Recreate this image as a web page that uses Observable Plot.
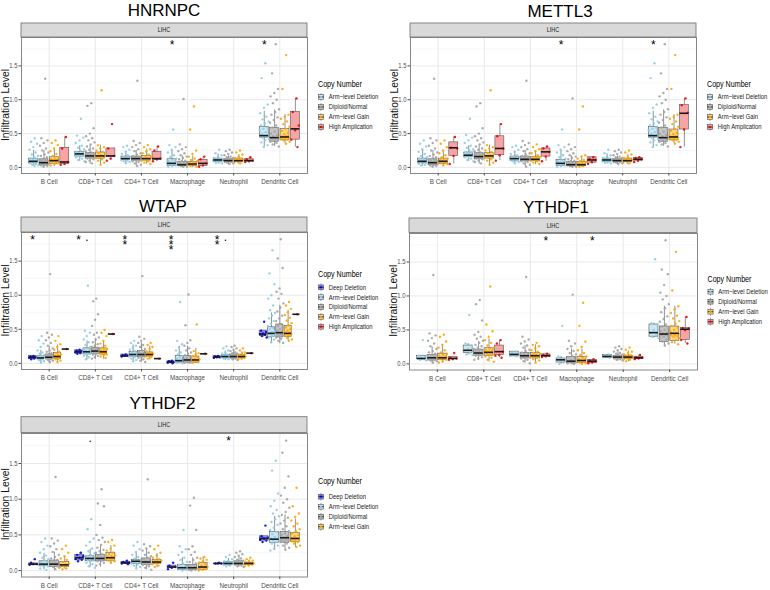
<!DOCTYPE html>
<html><head><meta charset="utf-8">
<script src="https://cdn.jsdelivr.net/npm/d3@7"></script>
<script src="https://cdn.jsdelivr.net/npm/@observablehq/plot@0.6"></script>
<style>
body{margin:0;background:#fff;}
#root{position:relative;width:770px;height:590px;overflow:hidden;background:#fff;}
</style></head><body><div id="root"></div>
<script>
// ---------- shared categories / labels ----------
const cells = ["B Cell","CD8+ T Cell","CD4+ T Cell","Macrophage","Neutrophil","Dendritic Cell"];
const groupNames = ["Deep Deletion","Arm\u2212level Deletion","Diploid/Normal","Arm\u2212level Gain","High Amplication"];
const pointColors = ["#0000f0","#8ecde6","#a3a3a3","#ffa500","#f00000"];
const boxColors = ["#8585f5","#c8e6f1","#bfbfbf","#ffd27a","#f79a9a"];
const yTicks = [0, 0.5, 1, 1.5];
const yMinor = [0.25, 0.75, 1.25, 1.75];
const stripLabel = "LIHC";
const legendTitle = "Copy Number";
const yLabel = "Infiltration Level";

// values in hundredths: box = "whiskerLow q1 median q3 whiskerHigh"
// ---------- HNRNPC ----------
const HNRNPC_groups = [1,2,3,4];
const HNRNPC_box = [
 ["2 6 9 13 25","0 3 7 12 25","1 5 10 15 28","4 5 8 29 45"],
 ["9 16 20 23 32","5 13 17 21 33","4 13 17 22 33","10 15 17 28 28"],
 ["5 11 13 16 24","2 10 13 16 25","5 10 13 17 27","9 11 13 23 31"],
 ["0 2 6 12 25","0 2 4 8 17","0 2 5 8 17","1 2 6 11 16"],
 ["5 8 11 13 20","4 9 10 12 17","4 8 10 13 19","8 9 10 12 15"],
 ["30 44 47 60 83","31 38 44 58 85","35 40 45 57 78","30 41 57 82 102"]
];
const HNRNPC_pts = [
 ["43 38 35 30 26 22 19 17 15 13 12 11 10 9 9 8 7 6 5 4 3 2","131 43 40 36 32 28 25 22 19 17 15 13 12 11 10 9 8 8 7 6 5 4 3 2 1","40 36 33 28 24 20 17 15 13 12 11 10 9 8 7 6 5 3","45 28 8 5 4"],
 ["72 47 44 40 36 32 29 27 25 23 22 21 20 19 18 17 16 15 13 11 9","95 91 58 50 46 43 40 37 34 31 28 26 24 22 21 20 19 18 17 16 15 14 13 12 10 8 6","114 33 30 28 25 23 21 20 18 17 16 15 14 12 10 7 4","64 28 17 13 10"],
 ["32 30 26 23 20 18 16 15 14 13 12 12 11 10 9 8 6","128 39 36 33 30 27 24 21 19 17 16 15 14 13 12 11 10 9 8 6 4 2","33 30 27 24 21 19 17 15 14 13 12 11 10 9 7 5","31 25 13 12 9"],
 ["56 33 30 26 22 18 15 13 11 9 8 7 6 5 4 3 2 1","101 34 30 27 24 21 18 16 14 12 10 9 8 7 6 5 4 3 3 2 1 1","90 56 25 20 16 13 11 9 8 7 6 5 4 3 2 1","16 12 6 3 1"],
 ["26 21 18 16 14 13 12 12 11 11 10 9 9 8 7 6","26 24 22 20 18 16 15 14 13 12 12 11 11 10 10 9 9 8 8 7 6 5","25 22 19 16 14 13 12 11 10 10 9 8 7 6","15 12 10 9 8"],
 ["154 132 93 88 80 75 71 68 65 62 59 57 55 52 50 48 47 46 45 44 42 40 37 33 30","182 139 116 110 105 100 95 86 82 78 74 70 66 62 59 56 53 50 48 46 44 43 42 41 40 38 36 34 31","166 116 78 75 72 68 64 60 57 54 51 49 47 46 45 44 43 42 41 40 38 35","102 82 62 55 41 30"]
];
const HNRNPC_sig = [[3,0,"*"],[5,0,"*"]];

// ---------- METTL3 ----------
const METTL3_groups = [1,2,3,4];
const METTL3_box = [
 ["2 6 9 13 25","0 3 7 12 25","2 5 9 13 24","5 17 29 37 45"],
 ["9 15 18 22 32","5 12 16 21 33","4 13 17 21 33","10 18 28 46 64"],
 ["5 10 13 16 24","1 9 12 16 25","4 9 12 15 25","9 16 23 28 31"],
 ["0 2 6 11 25","0 2 4 8 17","0 2 4 8 17","5 7 11 15 15"],
 ["5 8 11 13 20","4 9 10 12 17","4 8 10 13 19","8 10 12 14 15"],
 ["30 44 47 60 83","31 38 44 58 85","35 40 45 56 78","30 56 80 92 102"]
];
const METTL3_pts = [
 ["40 35 31 27 23 20 17 15 13 12 11 10 9 9 8 7 6 5 4 3","131 43 40 36 32 28 25 22 19 17 15 13 12 11 10 9 8 8 7 6 5 4 3 2 1","40 35 30 25 21 18 15 13 12 11 10 9 8 7 6 5 3","45 29 28 17 5"],
 ["72 48 44 40 36 32 29 27 25 23 22 21 20 19 18 17 16 15 13 11 9","95 90 58 50 46 43 40 37 34 31 28 26 24 22 21 20 19 18 17 16 15 14 13 12 10 8 6","114 33 30 28 25 23 21 20 18 17 16 15 14 12 10 7 4","64 46 28 18 10"],
 ["32 30 26 23 20 18 16 15 14 13 12 12 11 10 9 8 6","128 39 36 33 30 27 24 21 19 17 16 15 14 13 12 11 10 9 8 6 4 1","34 30 27 24 21 18 16 15 14 13 12 11 10 9 7 5","31 28 23 16 9"],
 ["56 33 30 26 22 18 15 13 11 9 8 7 6 5 4 3 2 1","102 34 30 27 24 21 18 16 14 12 10 9 8 7 6 5 4 3 3 2 1 1","90 56 18 16 13 11 9 8 7 6 5 4 3 2 1","15 13 11 8 5"],
 ["26 21 18 16 14 13 12 12 11 11 10 9 9 8 7 6","26 24 22 20 18 16 15 14 13 12 12 11 11 10 10 9 9 8 8 7 6 5","25 22 19 16 14 13 12 11 10 10 9 8 7 6","15 14 12 10 8"],
 ["154 132 93 88 80 75 71 68 65 62 59 57 55 52 50 48 47 46 45 44 42 40 37 33 30","182 139 116 110 105 100 95 86 82 78 74 70 66 62 59 56 53 50 48 46 44 43 42 41 40 38 36 34 31","166 116 78 75 72 68 64 60 57 54 51 49 47 46 45 44 43 42 41 40 38 35","102 92 81 56 30"]
];
const METTL3_sig = [[3,0,"*"],[5,0,"*"]];

// ---------- WTAP ----------
const WTAP_groups = [0,1,2,3,4];
const WTAP_box = [
 ["6 7 9 11 11","1 6 8 11 19","0 6 9 13 25","1 6 10 15 27","21 21 21 21 21"],
 ["13 15 17 19 20","5 13 17 22 33","6 14 18 23 36","6 13 17 22 33","43 43 43 43 43"],
 ["10 10 11 13 13","3 9 13 17 27","2 9 13 18 30","5 10 13 16 25","7 7 7 7 7"],
 ["0 1 2 3 4","0 1 4 11 25","0 1 5 11 25","0 1 5 10 22","14 14 14 14 14"],
 ["8 8 9 11 11","4 8 10 12 18","4 8 10 13 20","5 8 10 12 17","15 15 15 15 15"],
 ["38 40 43 48 48","29 39 44 53 74","29 38 45 57 85","33 39 44 55 78","72 72 72 72 72"]
];
const WTAP_pts = [
 ["11 10 9 9 8 7 6","40 34 29 24 19 16 14 12 11 10 9 8 7 6 5 3 1","131 45 42 38 34 30 26 22 19 17 15 13 12 11 10 9 8 7 6 5 4 2","40 33 28 24 20 17 15 13 12 11 10 9 8 7 6 4 2","21"],
 ["20 19 18 17 16 15 14","114 48 45 40 35 31 27 24 22 20 19 18 17 16 15 14 13 11 9 6","95 91 72 64 55 45 42 38 35 31 28 26 24 22 21 20 19 18 17 16 15 14 13 11 9 7","49 45 40 33 29 26 23 21 20 19 18 17 16 15 14 13 12 10 8","43"],
 ["13 12 11 11 10","33 30 26 23 20 18 16 15 14 13 12 11 10 9 7 5 3","128 39 36 33 30 27 24 21 19 17 15 14 13 12 11 10 9 8 6 4 2","30 27 24 21 18 16 15 14 13 12 12 11 10 9 7","7"],
 ["4 3 2 2 1 0","90 33 28 23 19 16 13 11 9 7 5 4 3 2 1 0","101 56 34 30 26 22 19 16 14 12 10 8 6 5 4 3 2 1 1","57 18 15 13 11 9 7 6 5 4 3 2 1","14"],
 ["11 10 9 9 8","25 22 19 16 14 13 12 11 11 10 10 9 9 8 7 6","26 24 22 20 18 16 15 14 13 12 11 11 10 10 9 9 8 8 7 6 5","22 19 16 14 13 12 11 10 10 9 8 7 6","15"],
 ["61 48 46 44 43 42 40 38","166 132 116 100 95 85 78 74 70 66 62 58 55 52 50 48 46 45 44 43 42 40 38 35 31","182 154 140 110 105 102 95 88 82 76 70 66 62 58 55 52 50 48 46 45 44 43 42 41 40 38 36 33 30","90 85 80 75 71 67 63 59 56 53 50 48 46 45 44 43 42 41 40 38 35 33","72"]
];
const WTAP_sig = [[0,0,"*"],[1,0,"*"],[1,1,"."],[2,0,"**"],[3,0,"***"],[4,0,"**"],[4,1,"."]];

// ---------- YTHDF1 ----------
const YTHDF1_groups = [1,2,3,4];
const YTHDF1_box = [
 ["5 7 8 12 12","0 5 9 13 25","1 6 9 15 28","6 7 8 10 10"],
 ["13 16 20 27 30","5 12 16 21 33","3 12 17 23 37","9 13 18 27 35"],
 ["11 11 14 18 18","1 8 12 16 27","2 8 12 16 28","10 11 12 14 15"],
 ["0 2 6 8 11","0 1 4 10 22","0 1 5 10 22","1 1 4 6 7"],
 ["9 9 11 13 14","4 8 10 12 18","3 7 10 12 19","7 7 9 10 13"],
 ["38 40 46 58 60","27 32 44 55 85","29 34 45 55 85","30 35 51 53 69"]
];
const YTHDF1_pts = [
 ["35 12 10 9 8 7 6 5","131 45 42 38 34 30 26 22 19 17 15 13 12 11 10 9 8 7 6 5 4 2","43 40 33 28 24 20 17 15 13 12 11 10 9 8 7 6 4 2","16 9 8 7 6"],
 ["72 30 27 22 20 16 14 13","94 88 64 47 43 40 37 34 31 28 26 24 22 21 20 19 18 17 16 15 14 13 12 10 8 6","114 58 48 40 35 31 27 24 22 20 19 18 17 16 15 14 13 11 9 6 3","35 30 18 13 12 9"],
 ["18 17 15 14 12 11","128 40 36 33 30 27 24 21 19 17 15 14 13 12 11 10 9 8 6 4 1","31 28 26 23 20 18 16 15 14 13 12 11 10 9 7 5 2","15 13 12 11 10"],
 ["56 11 8 6 4 2 0","102 34 30 26 22 19 16 14 12 10 8 6 5 4 3 2 1 1 0","90 56 33 25 20 16 13 11 9 7 6 5 4 3 2 1 0","7 5 4 2 1"],
 ["14 13 12 11 10 9","26 24 22 20 18 16 15 14 13 12 11 11 10 10 9 9 8 8 7 6 5","24 21 18 16 14 13 12 11 10 10 9 8 7 6 4","13 10 9 8 7"],
 ["154 60 58 50 45 42 40 38","182 139 132 116 105 100 95 88 82 76 70 66 62 58 55 52 50 48 46 45 44 43 42 41 40 38 36 33 30 27","165 108 85 80 75 71 67 63 59 56 53 50 48 46 45 44 43 42 41 40 38 35 32 29","69 53 52 50 35 30"]
];
const YTHDF1_sig = [[2,3,"*"],[3,3,"*"]];

// ---------- YTHDF2 ----------
const YTHDF2_groups = [0,1,2,3];
const YTHDF2_box = [
 ["8 8 9 10 11","1 6 9 13 24","0 5 9 14 26","2 5 8 12 19"],
 ["13 15 18 22 25","4 13 17 20 30","5 13 17 22 35","9 13 18 25 35"],
 ["9 9 11 12 14","3 9 13 15 24","1 8 12 17 30","4 9 12 15 24"],
 ["2 4 5 7 7","0 1 4 8 18","0 1 4 8 18","0 1 5 11 19"],
 ["10 10 10 10 11","6 8 10 12 17","5 8 10 13 20","6 8 10 11 15"],
 ["40 42 45 48 48","28 39 44 54 76","29 39 46 54 78","33 40 45 53 72"]
];
const YTHDF2_pts = [
 ["16 11 9 9 8","45 40 35 30 25 21 18 16 14 12 11 10 9 8 7 6 5 3 1","131 45 42 38 34 30 26 22 19 17 15 13 12 11 10 9 8 7 6 5 4 2","35 30 25 20 17 15 12 10 9 8 7 6 5 3 2"],
 ["25 22 20 18 16 15 13","72 58 45 40 35 31 27 24 22 20 19 18 17 16 15 14 13 11 9 6 4","114 94 90 64 50 46 43 40 36 32 29 27 25 23 21 20 19 18 17 16 15 14 13 11 9 7","43 40 35 31 28 25 23 21 20 19 18 17 16 15 14 13 11"],
 ["14 12 11 11 10 9","40 35 30 26 22 19 17 15 14 13 12 11 10 9 7 5 3","128 37 34 31 28 25 22 20 18 16 15 14 13 12 11 10 9 8 6 4 1","35 30 25 21 18 16 15 14 13 12 11 10 9 7 5"],
 ["11 7 5 4 2","57 34 30 26 22 18 15 12 10 8 6 5 4 3 2 1 0","102 91 57 34 30 26 22 18 15 12 10 8 6 5 4 3 2 1 1 0","19 17 15 13 11 9 7 5 4 3 2 1 0"],
 ["11 10 10 10","22 19 16 14 13 12 11 11 10 10 9 9 8 7 6","27 25 23 21 19 17 15 14 13 12 11 11 10 10 9 9 8 8 7 6 5","18 16 14 13 12 11 10 10 9 9 8 7 6"],
 ["63 48 46 45 43 42 40","154 140 108 98 90 85 80 76 72 68 64 60 57 54 51 49 47 45 44 43 42 40 38 35 31 28","182 165 132 116 105 100 95 88 82 78 74 70 66 62 58 55 52 50 48 46 45 44 43 42 41 40 38 35 32 29","116 90 80 75 70 66 62 58 55 52 50 48 46 45 44 43 42 41 40 38 35 33"]
];
const YTHDF2_sig = [[1,1,"."],[4,1,"*"]];

// ---------- layout ----------
const REG = "'Liberation Sans',Arial,sans-serif";
const SX = 0.84;  // horizontal condensing of small texts, as in the reference
const layout = [
 {gene:"HNRNPC", groups:HNRNPC_groups, box:HNRNPC_box, pts:HNRNPC_pts, sig:HNRNPC_sig,
  left:0, top:36, w:286, h:136, titleX:164, titleY:15.7, strip:[21,23,307,37], legX:318, legTitleY:86.5, legY0:97, legStep:10},
 {gene:"METTL3", groups:METTL3_groups, box:METTL3_box, pts:METTL3_pts, sig:METTL3_sig,
  left:389, top:36, w:286, h:136, titleX:560, titleY:16.5, strip:[410,23,696,37], legX:707, legTitleY:86.5, legY0:97, legStep:10},
 {gene:"WTAP", groups:WTAP_groups, box:WTAP_box, pts:WTAP_pts, sig:WTAP_sig,
  left:0, top:231, w:286, h:137, titleX:163, titleY:211.5, strip:[21,217,307,232], legX:318, legTitleY:276.5, legY0:287.3, legStep:9.85},
 {gene:"YTHDF1", groups:YTHDF1_groups, box:YTHDF1_box, pts:YTHDF1_pts, sig:YTHDF1_sig,
  left:388, top:231.5, w:288, h:136.5, titleX:556, titleY:212.5, strip:[409,218,697,232.5], legX:707.5, legTitleY:281.5, legY0:291.7, legStep:10},
 {gene:"YTHDF2", groups:YTHDF2_groups, box:YTHDF2_box, pts:YTHDF2_pts, sig:YTHDF2_sig,
  left:0, top:431.5, w:286, h:143.5, titleX:162.5, titleY:409.3, strip:[21,416.7,307,432.5], legX:318, legTitleY:484, legY0:496.7, legStep:10}
];

const parse = s => s.split(" ").map(v => +v / 100);
const jitter = k => (((k + 1) * 0.6180339887) % 1) - 0.5;   // horizontal spread only
const root = document.getElementById("root");
const ML = 21, MR = 1, MT = 1, MB = 20;
const STAR_STEP = 5.4;

function condense(el) {
  const t = el.getAttribute("transform");
  if (t) { el.setAttribute("transform", t + ` scale(${SX},1)`); return; }
  const x = +(el.getAttribute("x") || 0), y = +(el.getAttribute("y") || 0);
  el.removeAttribute("x"); el.removeAttribute("y");
  el.setAttribute("transform", `translate(${x},${y}) scale(${SX},1)`);
}

layout.forEach(L => {
  const n = L.groups.length, step = 0.9 / n, bw = step * 0.86;
  const boxRows = [], ptRows = [];
  cells.forEach((c, ci) => L.groups.forEach((g, gi) => {
    const xc = ci + 1 + (gi - (n - 1) / 2) * step;
    const [lo, q1, med, q3, hi] = parse(L.box[ci][gi]);
    boxRows.push({g, xc, x1: xc - bw / 2, x2: xc + bw / 2, lo, q1, med, q3, hi});
    parse(L.pts[ci][gi]).forEach((v, k) => ptRows.push({g, x: xc + jitter(k) * bw * 1.1, y: v}));
  }));
  // significance marks: each character of a label stacked downward from the panel top
  const sigChars = [];
  L.sig.forEach(([ci, gi, t]) => t.split("").forEach((ch, level) =>
    sigChars.push({x: ci + 1 + (gi - (n - 1) / 2) * step, ch, level})));
  const starMarks = [0, 1, 2].map(level => Plot.text(sigChars.filter(d => d.ch === "*" && d.level === level),
    {x: "x", frameAnchor: "top", dy: 2.5 + level * STAR_STEP, text: "ch", lineAnchor: "top", fontSize: 12, fontFamily: REG, fill: "black"}));
  const dotMark = Plot.text(sigChars.filter(d => d.ch === "."),
    {x: "x", frameAnchor: "top", dy: 0, text: "ch", lineAnchor: "top", fontSize: 12, fontFamily: REG, fill: "black"});
  const svg = Plot.plot({
    width: ML + L.w + MR, height: MT + L.h + MB,
    marginLeft: ML, marginRight: MR, marginTop: MT, marginBottom: MB,
    style: {fontFamily: REG, background: "transparent", overflow: "visible"},
    x: {domain: [0.4, 6.6]},
    y: {domain: [-0.09, 1.92]},
    color: {type: "identity"},
    marks: [
      Plot.frame({fill: "white"}),
      Plot.gridY(yMinor, {stroke: "#f2f2f2", strokeOpacity: 1, strokeWidth: 0.6}),
      Plot.gridY(yTicks, {stroke: "#e6e6e6", strokeOpacity: 1, strokeWidth: 0.9}),
      Plot.gridX(d3.range(1, 7), {stroke: "#e6e6e6", strokeOpacity: 1, strokeWidth: 0.9}),
      Plot.ruleX(boxRows, {x: "xc", y1: "lo", y2: "q1", stroke: "#4a4a4a", strokeWidth: 0.6}),
      Plot.ruleX(boxRows, {x: "xc", y1: "q3", y2: "hi", stroke: "#4a4a4a", strokeWidth: 0.6}),
      Plot.rect(boxRows, {x1: "x1", x2: "x2", y1: "q1", y2: "q3", fill: d => boxColors[d.g], fillOpacity: 0.9, stroke: "#555", strokeWidth: 0.6}),
      Plot.dot(ptRows, {x: "x", y: "y", r: 1.2, fill: d => pointColors[d.g], fillOpacity: 0.9, stroke: null}),
      Plot.ruleY(boxRows, {x1: "x1", x2: "x2", y: "med", stroke: "#1a1a1a", strokeWidth: 1.6}),
      ...starMarks, dotMark,
      Plot.frame({stroke: "#7a7a7a", strokeWidth: 0.9}),
      Plot.axisX(d3.range(1, 7), {tickFormat: i => cells[i - 1], tickSize: 2.5, tickPadding: 3, fontSize: 7.5, color: "#4d4d4d", label: null}),
      Plot.axisY(yTicks, {tickFormat: d3.format(".1f"), tickSize: 2.5, tickPadding: 1.5, fontSize: 7, color: "#4d4d4d", label: null})
    ]
  });
  svg.style.position = "absolute";
  svg.style.left = L.left + "px";
  svg.style.top = L.top + "px";
  svg.style.maxWidth = "none";
  svg.querySelectorAll("g[aria-label='x-axis tick label'] text, g[aria-label='y-axis tick label'] text").forEach(condense);
  root.appendChild(svg);
});

// ---------- titles, strips, axis titles, legends ----------
const ov = d3.select(root).append("svg").attr("width", 770).attr("height", 590)
  .style("position", "absolute").style("left", "0px").style("top", "0px");
const smallText = (x, y, size, txt, anchor) => ov.append("text")
  .attr("transform", `translate(${x},${y}) scale(${SX},1)`).attr("text-anchor", anchor || "start")
  .attr("font-family", REG).attr("font-size", size).attr("fill", "#1a1a1a").text(txt);
layout.forEach(L => {
  ov.append("text").attr("x", L.titleX).attr("y", L.titleY).attr("text-anchor", "middle")
    .attr("font-family", REG).attr("font-size", 17).attr("fill", "#000").text(L.gene);
  const [x0, y0, x1, y1] = L.strip;
  ov.append("rect").attr("x", x0).attr("y", y0).attr("width", x1 - x0).attr("height", y1 - y0)
    .attr("fill", "#d9d9d9").attr("stroke", "#7a7a7a").attr("stroke-width", 0.9);
  smallText((x0 + x1) / 2, (y0 + y1) / 2 + 2.3, 6.5, stripLabel, "middle");
  const midY = L.top + MT + L.h / 2;
  ov.append("text").attr("transform", `translate(${L.left + 9.3},${midY}) rotate(-90)`)
    .attr("text-anchor", "middle").attr("font-family", REG).attr("font-size", 10.3).attr("fill", "#111").text(yLabel);
  smallText(L.legX, L.legTitleY, 8.5, legendTitle).attr("fill", "#000");
  L.groups.forEach((g, i) => {
    const cy = L.legY0 + i * L.legStep, cx = L.legX + 3;
    ov.append("line").attr("x1", cx).attr("x2", cx).attr("y1", cy - 3.8).attr("y2", cy + 3.8).attr("stroke", "#555").attr("stroke-width", 0.6);
    ov.append("rect").attr("x", cx - 2.6).attr("y", cy - 2.4).attr("width", 5.2).attr("height", 4.8)
      .attr("fill", boxColors[g]).attr("stroke", "#555").attr("stroke-width", 0.6);
    ov.append("line").attr("x1", cx - 2.6).attr("x2", cx + 2.6).attr("y1", cy).attr("y2", cy).attr("stroke", "#222").attr("stroke-width", 0.9);
    ov.append("circle").attr("cx", cx).attr("cy", cy).attr("r", 1.1).attr("fill", pointColors[g]);
    smallText(L.legX + 10.8, cy + 2.4, 7, groupNames[g]);
  });
});
</script></body></html>
